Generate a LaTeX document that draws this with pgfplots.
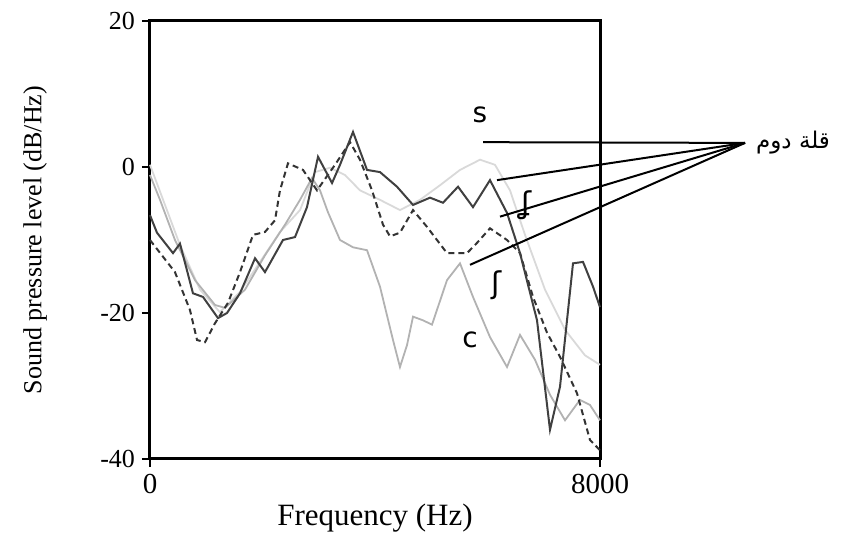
\documentclass[border=0pt]{standalone}
\usepackage{pgfplots}
\pgfplotsset{compat=1.18}
\usepackage{fontspec}
\setmainfont{Liberation Serif}
\newfontfamily\ipafont{DejaVu Sans}
\newfontfamily\arabicfont[Script=Arabic]{DejaVu Sans}
\TeXXeTstate=1
\pgfplotstableread{
f dB
0 -6.6
124 -9.0
409 -11.8
533 -10.5
764 -17.3
942 -17.8
1209 -20.7
1369 -20.0
1600 -17.3
1867 -12.5
2044 -14.4
2364 -10.0
2578 -9.6
2791 -5.5
2987 1.4
3236 -2.2
3378 0.3
3609 4.8
3858 -0.4
4089 -0.7
4391 -2.7
4676 -5.2
4978 -4.2
5209 -4.9
5476 -2.7
5742 -5.5
6044 -1.8
6347 -6.3
6578 -11.8
6880 -21.0
7111 -36.0
7289 -30.1
7520 -13.2
7698 -13.0
7876 -16.4
8000 -19.2
}\seriesS
\pgfplotstableread{
f dB
0 -10.0
444 -14.4
711 -19.6
836 -23.7
978 -24.0
1156 -21.4
1387 -18.6
1600 -14.4
1831 -9.3
2044 -8.9
2222 -7.3
2311 -3.2
2453 0.5
2720 -0.4
2969 -3.2
3289 0.3
3556 3.4
3733 1.0
3947 -3.2
4142 -7.9
4267 -9.5
4444 -9.0
4676 -5.9
4924 -8.2
5280 -11.8
5636 -11.8
5813 -10.4
6044 -8.4
6347 -10.0
6578 -11.8
6809 -17.8
7058 -22.7
7289 -26.0
7591 -31.0
7822 -37.4
8000 -38.8
}\seriesSh
\pgfplotstableread{
f dB
0 -1.1
178 -4.5
444 -10.0
800 -15.5
1156 -18.9
1333 -19.3
1689 -16.8
2044 -12.1
2400 -7.9
2667 -4.5
2880 -1.5
3022 -3.2
3164 -6.2
3378 -10.0
3609 -11.0
3858 -11.4
4089 -16.4
4320 -23.7
4444 -27.4
4569 -24.4
4676 -20.5
4853 -21.0
5013 -21.6
5280 -15.5
5511 -13.2
5742 -17.8
6044 -23.3
6347 -27.4
6578 -23.0
6844 -26.4
7111 -31.2
7378 -34.7
7644 -31.9
7822 -32.6
8000 -34.7
}\seriesC
\pgfplotstableread{
f dB
0 0.3
267 -5.2
533 -10.7
889 -16.8
1244 -19.9
1600 -17.1
1956 -13.0
2311 -8.9
2667 -5.9
2933 -0.7
3200 -0.1
3467 -1.1
3733 -3.2
4089 -4.5
4444 -5.9
4800 -4.5
5156 -2.5
5511 -0.4
5867 1.0
6133 0.3
6400 -3.2
6667 -9.3
7022 -16.8
7378 -22.3
7733 -25.8
8000 -27.1
}\seriesD
\begin{document}
\begin{tikzpicture}
\begin{axis}[
  scale only axis,
  width=225pt, height=219pt,
  xmin=0, xmax=8000, ymin=-40, ymax=20,
  xtick={0,8000}, ytick={-40,-20,0,20},
  xticklabels={0,8000},
  scaled x ticks=false,
  /pgf/number format/assume math mode=true,
  yticklabel style={font=\fontsize{13}{15}\selectfont},
  xticklabel style={font=\fontsize{14.5}{16}\selectfont},
  xtick pos=left, ytick pos=left,
  tick align=outside,
  major tick length=4pt,
  tick style={black, line width=1pt},
  axis line style={line width=1.5pt},
  clip=false,
  xlabel={Frequency (Hz)},
  ylabel={Sound pressure level (dB/Hz)},
  xlabel style={font=\fontsize{15.5}{17}\selectfont, at={(axis description cs:0.5,-0.135)}, anchor=center},
  ylabel style={font=\fontsize{13}{15}\selectfont, at={(axis description cs:-0.255,0.5)}, anchor=center},
]
\addplot[gray!30, line width=0.9pt] table[x=f,y=dB] {\seriesD};
\addplot[gray!60, line width=0.9pt] table[x=f,y=dB] {\seriesC};
\addplot[black!80, line width=1pt, densely dashed] table[x=f,y=dB] {\seriesSh};
\addplot[black!75, line width=1pt] table[x=f,y=dB] {\seriesS};
% pointer lines
\draw[black, line width=1pt] (axis cs:5920,3.4) -- (axis cs:10578,3.3);
\draw[black, line width=1pt] (axis cs:6169,-1.8) -- (axis cs:10578,3.3);
\draw[black, line width=1pt] (axis cs:6222,-6.8) -- (axis cs:10578,3.3);
\draw[black, line width=1pt] (axis cs:5689,-13.4) -- (axis cs:10578,3.3);
\node[font=\ipafont\fontsize{14}{16}\selectfont] at (axis cs:5867,7.2) {s};
\node[font=\ipafont\fontsize{15}{17}\selectfont] at (axis cs:6702,-5.3) {ʆ};
\node[font=\ipafont\fontsize{15}{17}\selectfont] at (axis cs:6169,-16.2) {ʃ};
\node[font=\ipafont\fontsize{14}{16}\selectfont] at (axis cs:5689,-23.7) {c};
\node[anchor=west, font=\fontsize{11.5}{13}\selectfont] at (axis cs:10650,3.3) {\arabicfont\beginR قلة دوم\endR};
\end{axis}
\pgfresetboundingbox
\path[use as bounding box] ([shift={(-75pt,-37pt)}]current axis.south west) rectangle ([shift={(132.5pt,10.5pt)}]current axis.north east);
\end{tikzpicture}
\end{document}
